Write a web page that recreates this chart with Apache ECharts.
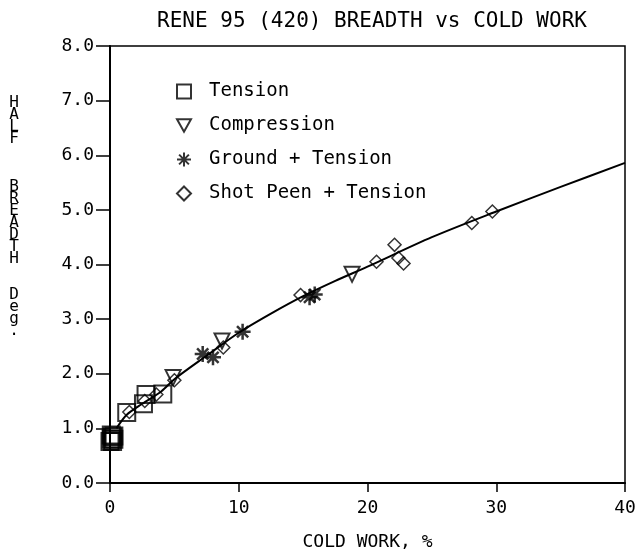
<!DOCTYPE html>
<html>
<head>
<meta charset="utf-8">
<script src="https://cdn.jsdelivr.net/npm/echarts@6/dist/echarts.min.js"></script>
<style>
  html, body { margin: 0; padding: 0; background: #fff; }
</style>
</head>
<body>
<div id="myechart" style="width:642px;height:554px;"></div>
<script>
// 数据
let tensionData = [[0, 0.76], [0.1, 0.8], [0.2, 0.84], [0.1, 0.88], [0.3, 0.8], [0.2, 0.76], [0.3, 0.86],
    [1.3, 1.29], [2.6, 1.45], [2.8, 1.62], [4.1, 1.63]];
let compressionData = [[4.9, 1.93], [8.7, 2.6], [18.8, 3.82]];
let groundData = [[7.2, 2.36], [8.0, 2.3], [10.3, 2.77], [15.5, 3.4], [15.9, 3.45]];
let shotPeenData = [[1.5, 1.3], [2.7, 1.5], [3.6, 1.62], [5.0, 1.88], [8.8, 2.48], [14.8, 3.44],
    [20.7, 4.05], [22.1, 4.36], [22.4, 4.12], [22.8, 4.02], [28.1, 4.76], [29.7, 4.97]];
let fitX = [0.5, 1.3, 2.5, 4, 5, 7.5, 10, 12.5, 15, 17.5, 20, 25, 30, 35, 40];
let fitY = [1.0, 1.25, 1.45, 1.68, 1.9, 2.33, 2.75, 3.1, 3.42, 3.7, 3.96, 4.5, 4.97, 5.42, 5.86];
let xTicks = [0, 10, 20, 30, 40];
let yTicks = [0, 1, 2, 3, 4, 5, 6, 7, 8];

let font = "DejaVu Sans Mono";
let starPath = "path://M0,5 L10,5 M5,0 L5,10 M1.5,1.5 L8.5,8.5 M8.5,1.5 L1.5,8.5";
let downTriangle = "path://M0,0 L10,0 L5,9 Z";
// letters stacked one per row, trailing empty rows lift the block up
let yName = "H\nA\nL\nF\n\n\n\nB\nR\nE\nA\nD\nT\nH\n\n\nD\ne\ng\n.\n\n\n\n\n\n\n \n";

let option = {
    animation: false,
    backgroundColor: "#fff",
    title: {
        text: "RENE 95 (420) BREADTH vs COLD WORK",
        left: 367,
        textAlign: "center",
        top: 6,
        textStyle: { fontFamily: font, fontSize: 21, fontWeight: "normal", color: "#000" }
    },
    legend: {
        orient: "vertical",
        left: 171,
        top: 77,
        itemWidth: 14,
        itemHeight: 14,
        itemGap: 15,
        data: ["Tension", "Compression", "Ground + Tension", "Shot Peen + Tension"],
        textStyle: { fontFamily: font, fontSize: 19, color: "#000", padding: [0, 0, 0, 13] }
    },
    grid: {
        left: 110,
        right: 17,
        top: 46,
        bottom: 71,
        outerBoundsMode: "none",
        show: true,
        borderColor: "#000",
        borderWidth: 1.5
    },
    xAxis: {
        type: "value",
        min: 0,
        max: 40,
        interval: 10,
        name: "COLD WORK, %",
        nameLocation: "middle",
        nameGap: 50,
        nameTextStyle: { fontFamily: font, fontSize: 18, color: "#000" },
        axisLine: { lineStyle: { color: "#000", width: 2 } },
        axisTick: { length: 9, lineStyle: { color: "#000", width: 1.5 } },
        axisLabel: {
            margin: 16,
            fontFamily: font,
            fontSize: 18,
            color: "#000",
            customValues: xTicks
        },
        splitLine: { show: false }
    },
    yAxis: {
        type: "value",
        min: 0,
        max: 8,
        interval: 1,
        name: yName,
        nameLocation: "middle",
        nameRotate: 0,
        nameGap: 91,
        nameTextStyle: {
            fontFamily: font,
            fontSize: 16,
            lineHeight: 12,
            color: "#000"
        },
        axisLine: { lineStyle: { color: "#000", width: 2 } },
        axisTick: { length: 14, lineStyle: { color: "#000", width: 1.5 } },
        axisLabel: {
            margin: 16,
            fontFamily: font,
            fontSize: 18,
            color: "#000",
            verticalAlign: "middle",
            padding: [0, 0, 8, 0],
            formatter: v => (yTicks.indexOf(v) >= 0 ? v.toFixed(1) : "")
        },
        splitLine: { show: false }
    },
    series: [
        {
            name: "fit",
            type: "line",
            data: fitX.map((x, i) => [x, fitY[i]]),
            smooth: 0.3,
            showSymbol: false,
            lineStyle: { color: "#000", width: 2 },
            z: 1
        },
        {
            name: "Tension",
            type: "scatter",
            symbol: "rect",
            symbolSize: 17,
            data: tensionData,
            itemStyle: { color: "rgba(255,255,255,0)", borderColor: "#000", borderWidth: 2 }
        },
        {
            name: "Compression",
            type: "scatter",
            symbol: downTriangle,
            symbolSize: 15,
            data: compressionData,
            itemStyle: { color: "rgba(255,255,255,0)", borderColor: "#000", borderWidth: 2 }
        },
        {
            name: "Ground + Tension",
            type: "scatter",
            symbol: starPath,
            symbolSize: 16,
            data: groundData,
            itemStyle: { color: "#000", borderColor: "#000", borderWidth: 2.5 }
        },
        {
            name: "Shot Peen + Tension",
            type: "scatter",
            symbol: "diamond",
            symbolSize: 13,
            data: shotPeenData,
            itemStyle: { color: "rgba(255,255,255,0)", borderColor: "#000", borderWidth: 1.5 }
        }
    ]
};

let myChart = echarts.init(document.getElementById("myechart"));
myChart.setOption(option);
</script>
</body>
</html>
